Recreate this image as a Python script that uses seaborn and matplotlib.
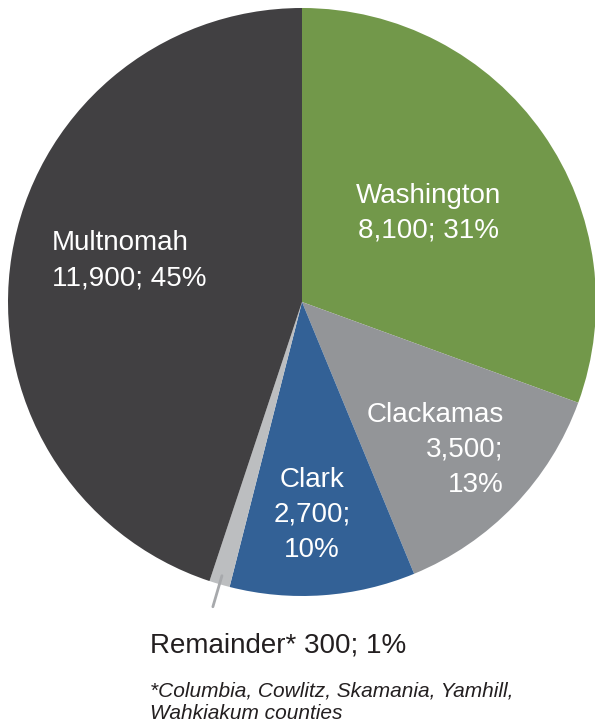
import numpy as np
import matplotlib
matplotlib.use("Agg")
import matplotlib.pyplot as plt
import seaborn as sns

# data
counties = ["Washington", "Clackamas", "Clark", "Remainder*", "Multnomah"]
counts = [8100, 3500, 2700, 300, 11900]
shares = [31, 13, 10, 1, 45]
colors = ["#72984a", "#939598", "#336196", "#bcbec0", "#414042"]
footnote = "*Columbia, Cowlitz, Skamania, Yamhill,\nWahkiakum counties"

sns.set_theme(style="white")
plt.rcParams["font.family"] = ["Liberation Sans", "DejaVu Sans"]

W, H = 595, 726
fig = plt.figure(figsize=(W / 100, H / 100), dpi=100)
cx, cy, R = 302, 302, 294
ax = fig.add_axes([(cx - R) / W, (H - cy - R) / H, 2 * R / W, 2 * R / H])

wedges, _ = ax.pie(counts, colors=colors, startangle=90, counterclock=False,
                   radius=1, wedgeprops=dict(linewidth=0))
ax.set_xlim(-1, 1)
ax.set_ylim(-1, 1)
ax.axis("off")

# label layout: radius factor, angle nudge, horizontal alignment
layout = {
    "Washington": (0.525, 0.2, "center"),
    "Clackamas": (0.85, 7.6, "right"),
    "Clark": (0.724, -1.4, "center"),
    "Multnomah": (0.862, -0.2, "left"),
}

for w, name, n, pct in zip(wedges, counties, counts, shares):
    mid = np.deg2rad((w.theta1 + w.theta2) / 2)
    if name == "Remainder*":
        # short leader line below the thin slice
        xs = [0.97 * np.cos(mid), 1.08 * np.cos(mid)]
        ys = [0.97 * np.sin(mid), 1.08 * np.sin(mid)]
        ax.plot(xs, ys, color="#a7a9ac", lw=2, clip_on=False)
        continue
    r, nudge, ha = layout[name]
    a = mid + np.deg2rad(nudge)
    if name in ("Clackamas", "Clark"):
        label = f"{name}\n{n:,};\n{pct}%"
    else:
        label = f"{name}\n{n:,}; {pct}%"
    ax.text(r * np.cos(a), r * np.sin(a), label, color="white", fontsize=20,
            ha=ha, va="center", multialignment=ha, linespacing=1.45)

fig.text(150 / W, 1 - 646 / H, f"Remainder* {counts[3]}; {shares[3]}%",
         fontsize=20, color="#231f20", ha="left", va="center")
fig.text(150 / W, 1 - 702 / H, footnote, fontsize=15, style="italic",
         color="#231f20", ha="left", va="center", linespacing=1.25)

fig.savefig("out.png", dpi=100)
